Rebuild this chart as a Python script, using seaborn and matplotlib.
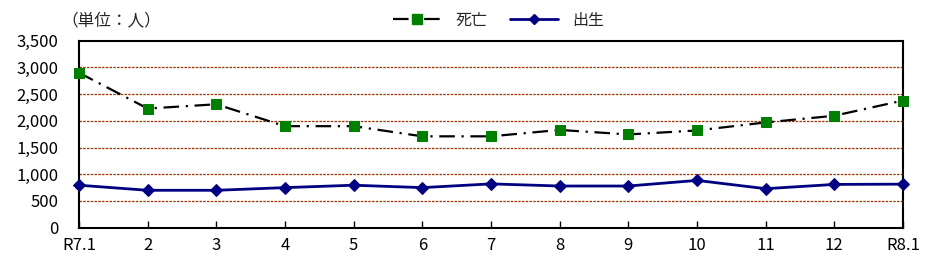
import matplotlib
matplotlib.use("Agg")
import matplotlib.pyplot as plt
import seaborn as sns
import pandas as pd
from matplotlib.lines import Line2D

months = ["R7.1", "2", "3", "4", "5", "6", "7", "8", "9", "10", "11", "12", "R8.1"]
deaths = [2900, 2230, 2310, 1900, 1900, 1710, 1710, 1830, 1745, 1820, 1970, 2095, 2380]
births = [795, 700, 700, 750, 795, 750, 820, 780, 780, 885, 730, 810, 815]
y_ticks = [0, 500, 1000, 1500, 2000, 2500, 3000, 3500]
series_names = ["死亡", "出生"]

sns.set_theme(style="white")
plt.rcParams['font.family'] = ['Noto Sans CJK JP', 'DejaVu Sans']

df = pd.DataFrame({
    "month": months * 2,
    "x": list(range(len(months))) * 2,
    "value": deaths + births,
    "series": [series_names[0]] * len(months) + [series_names[1]] * len(months),
})

fig = plt.figure(figsize=(9.36, 2.74), dpi=100)
ax = fig.add_axes([0.0844, 0.169, 0.8803, 0.6825])

sns.lineplot(data=df[df.series == "死亡"], x="x", y="value", ax=ax, color="black",
             linewidth=1.6, marker="s", markersize=7.5, markerfacecolor="#008000",
             markeredgecolor="#008000", legend=False, zorder=3)
sns.lineplot(data=df[df.series == "出生"], x="x", y="value", ax=ax, color="#000080",
             linewidth=2, marker="D", markersize=6, markerfacecolor="#000080",
             markeredgecolor="#000080", legend=False, zorder=3)
ax.lines[0].set_dashes([7, 3, 1, 3])
for ln in ax.lines:
    ln.set_clip_on(False)

ax.set_xlim(0, len(months) - 1)
ax.set_ylim(0, 3500)
ax.set_xticks(range(len(months)))
ax.set_xticklabels(months)
ax.set_yticks(y_ticks)
ax.set_yticklabels([f"{v:,}" for v in y_ticks])
ax.set_xlabel("")
ax.set_ylabel("")

for v in y_ticks[1:-1]:
    ax.axhline(v, color="#993300", linewidth=0.9, linestyle=(0, (2, 1)), zorder=1)

for s in ax.spines.values():
    s.set_color("black")
    s.set_linewidth(1.5)

ax.tick_params(axis="x", direction="in", length=5, width=1, colors="black",
               labelsize=12, pad=7, bottom=True)
ax.tick_params(axis="y", length=0, labelsize=12, pad=15, colors="black")
for t in ax.get_xticklabels() + ax.get_yticklabels():
    t.set_color("black")

fig.text(0.066, 0.925, "（単位：人）", fontsize=12, ha="left", va="center")

handles = [
    Line2D([0], [0], color="black", linewidth=1.6, dashes=[7, 3, 1, 3], marker="s",
           markersize=7, markerfacecolor="#008000", markeredgecolor="#008000"),
    Line2D([0], [0], color="#000080", linewidth=2, marker="D", markersize=5,
           markerfacecolor="#000080", markeredgecolor="#000080"),
]
fig.legend(handles, series_names, loc="center", bbox_to_anchor=(0.533, 0.925), ncol=2,
           frameon=False, fontsize=11.5, handlelength=3.0, columnspacing=1.4, handletextpad=0.9)

fig.savefig("out.png", dpi=100)
